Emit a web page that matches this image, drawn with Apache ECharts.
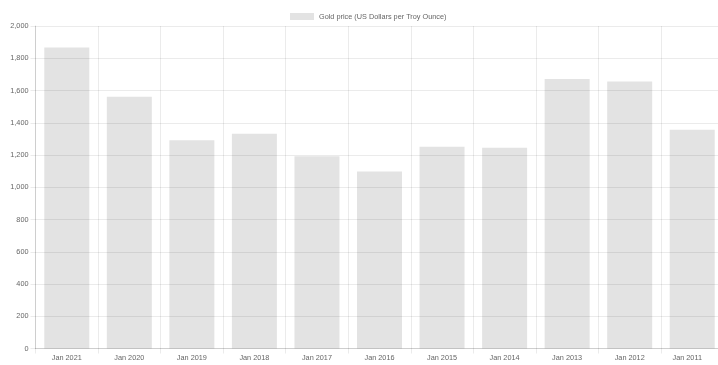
<!DOCTYPE html>
<html>
<head>
<meta charset="utf-8">
<script src="https://cdn.jsdelivr.net/npm/echarts@6/dist/echarts.min.js"></script>
<style>
  html, body { margin: 0; padding: 0; background: #fff; overflow: hidden; width: 718px; height: 365px; }
  /* plot area runs slightly past the right edge of the window */
  #chart { width: 724px; height: 365px; }
</style>
</head>
<body>
<div id="chart"></div>
<script>
// Monthly average gold price, January of each year (newest first)
const categories = ['Jan 2021', 'Jan 2020', 'Jan 2019', 'Jan 2018', 'Jan 2017', 'Jan 2016',
                    'Jan 2015', 'Jan 2014', 'Jan 2013', 'Jan 2012', 'Jan 2011'];
const goldPrice = [1866.98, 1560.67, 1291.75, 1331.30, 1192.10, 1097.91,
                   1251.85, 1244.27, 1671.85, 1656.12, 1356.40];
const seriesName = 'Gold price (US Dollars per Troy Ounce)';
const yTicks = { min: 0, max: 2000, interval: 200 };

const FONT = "'Liberation Sans', Arial, Helvetica, sans-serif";
const TEXT = '#666666';
const GRID = 'rgba(0,0,0,0.08)';

// The last tick label is nudged left so it stays inside the visible area
const xData = categories.map((c, i) =>
  i === categories.length - 1 ? { value: c, textStyle: { padding: [0, 10, 0, 0] } } : c);

const chart = echarts.init(document.getElementById('chart'), null, { renderer: 'canvas' });
chart.setOption({
  animation: false,
  backgroundColor: '#ffffff',
  legend: {
    data: [seriesName],
    left: 290,
    top: 13,
    padding: 0,
    itemWidth: 24,
    itemHeight: 7,
    icon: 'rect',
    textStyle: { fontSize: 7.3, color: TEXT, fontFamily: FONT }
  },
  grid: { left: 35.5, top: 26, width: 688, height: 322.5, containLabel: false },
  xAxis: {
    type: 'category',
    data: xData,
    boundaryGap: true,
    axisLine: { show: true, lineStyle: { color: 'rgba(0,0,0,0.12)', width: 1 } },
    axisTick: { show: true, length: 5, alignWithLabel: false, lineStyle: { color: GRID } },
    splitLine: { show: true, lineStyle: { color: GRID, width: 1 } },
    axisLabel: { margin: 6, fontSize: 7.3, color: TEXT, fontFamily: FONT, interval: 0 }
  },
  yAxis: {
    type: 'value',
    min: yTicks.min,
    max: yTicks.max,
    interval: yTicks.interval,
    axisLine: { show: true, lineStyle: { color: 'rgba(0,0,0,0.12)', width: 1 } },
    axisTick: { show: true, length: 5, lineStyle: { color: GRID } },
    splitLine: { show: true, lineStyle: { color: GRID, width: 1 } },
    axisLabel: {
      margin: 7, fontSize: 7.3, color: TEXT, fontFamily: FONT,
      formatter: v => v.toLocaleString('en-US')
    }
  },
  series: [{
    name: seriesName,
    type: 'bar',
    data: goldPrice,
    barWidth: '72%',
    itemStyle: { color: 'rgba(0,0,0,0.11)' },
    emphasis: { disabled: true }
  }]
});
</script>
</body>
</html>
